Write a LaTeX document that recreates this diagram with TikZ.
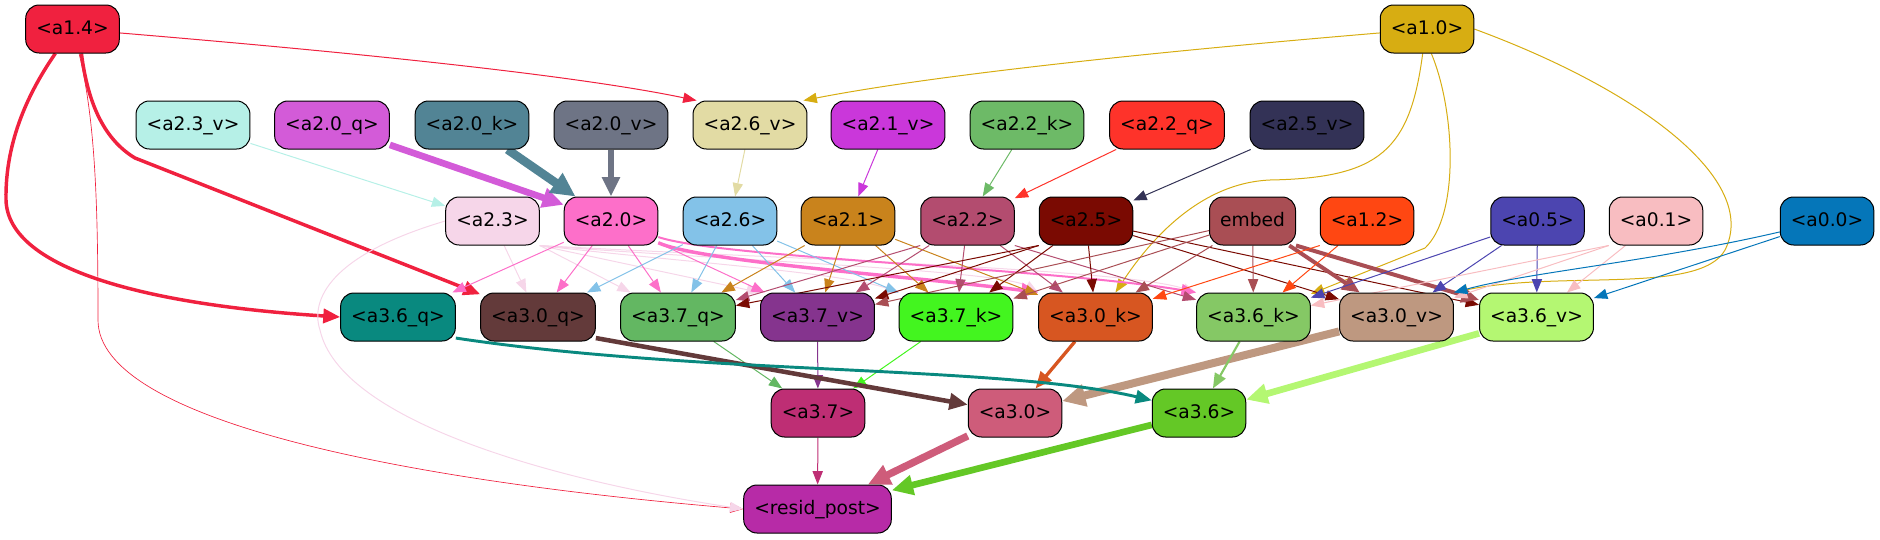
\documentclass[tikz,border=0pt]{standalone}
\usepackage{fontspec}
\setmainfont{DejaVu Sans}
\usetikzlibrary{arrows.meta, backgrounds}

\definecolor{c14}{HTML}{F0213F}
\definecolor{c10}{HTML}{D7AD12}
\definecolor{c23v}{HTML}{B6F0E7}
\definecolor{c20q}{HTML}{D35BD8}
\definecolor{c20k}{HTML}{528495}
\definecolor{c20v}{HTML}{6E7485}
\definecolor{c26v}{HTML}{E2DBA4}
\definecolor{c21v}{HTML}{CA37DA}
\definecolor{c22k}{HTML}{6DBA67}
\definecolor{c22q}{HTML}{FE332A}
\definecolor{c25v}{HTML}{333256}
\definecolor{c23}{HTML}{F6D6E9}
\definecolor{c20}{HTML}{FD6FC9}
\definecolor{c26}{HTML}{83C2E8}
\definecolor{c21}{HTML}{C9831C}
\definecolor{c22}{HTML}{B34C6F}
\definecolor{c25}{HTML}{7A0A02}
\definecolor{cemb}{HTML}{A94E54}
\definecolor{c12}{HTML}{FF4712}
\definecolor{c05}{HTML}{4C45B0}
\definecolor{c01}{HTML}{F8BDC1}
\definecolor{c00}{HTML}{0576B9}
\definecolor{c36q}{HTML}{09897F}
\definecolor{c30q}{HTML}{633A3A}
\definecolor{c37q}{HTML}{63B762}
\definecolor{c37v}{HTML}{85348E}
\definecolor{c37k}{HTML}{43F51F}
\definecolor{c30k}{HTML}{D75621}
\definecolor{c36k}{HTML}{85C865}
\definecolor{c30v}{HTML}{BE9880}
\definecolor{c36v}{HTML}{B4F772}
\definecolor{c37}{HTML}{BE2E74}
\definecolor{c30}{HTML}{CE5C7A}
\definecolor{c36}{HTML}{64C826}
\definecolor{cres}{HTML}{B72BA7}

\tikzset{
  box/.style={draw=black, line width=0.75pt, rounded corners=10pt, fill=#1,
    minimum height=36pt, inner xsep=7.92pt, inner ysep=0pt,
    text height=10.5pt, text depth=3pt, font=\fontsize{14pt}{16pt}\selectfont},
  link/.style={draw=#1, line width=0.75pt, -{Triangle[length=9pt 1.4, width=6.5pt 1.6]}}
}

\begin{document}
\begin{tikzpicture}[x=0.75pt, y=-0.75pt]
\useasboundingbox (0,0) rectangle (1880,539);

% Top row
\node[box=c14] (a14) at (72.5,29) {<a1.4>};
\node[box=c10] (a10) at (1427,29) {<a1.0>};

% Second row
\node[box=c23v] (a23v) at (193,125)  {<a2.3\_v>};
\node[box=c20q] (a20q) at (332,125)  {<a2.0\_q>};
\node[box=c20k] (a20k) at (472,125)  {<a2.0\_k>};
\node[box=c20v] (a20v) at (611,125)  {<a2.0\_v>};
\node[box=c26v] (a26v) at (750,125)  {<a2.6\_v>};
\node[box=c21v] (a21v) at (888,125)  {<a2.1\_v>};
\node[box=c22k] (a22k) at (1027,125) {<a2.2\_k>};
\node[box=c22q] (a22q) at (1167,125) {<a2.2\_q>};
\node[box=c25v] (a25v) at (1307,125) {<a2.5\_v>};

% Third row
\node[box=c23]  (a23) at (492.5,221)  {<a2.3>};
\node[box=c20]  (a20) at (611,221)    {<a2.0>};
\node[box=c26]  (a26) at (730,221)    {<a2.6>};
\node[box=c21]  (a21) at (848,221)    {<a2.1>};
\node[box=c22]  (a22) at (967.5,221)  {<a2.2>};
\node[box=c25]  (a25) at (1086,221)   {<a2.5>};
\node[box=cemb] (emb) at (1252.5,221) {embed};
\node[box=c12]  (a12) at (1367,221)   {<a1.2>};
\node[box=c05]  (a05) at (1537.5,221) {<a0.5>};
\node[box=c01]  (a01) at (1656,221)   {<a0.1>};
\node[box=c00]  (a00) at (1827,221)   {<a0.0>};

% Fourth row
\node[box=c36q] (a36q) at (398,317)    {<a3.6\_q>};
\node[box=c30q] (a30q) at (538,317)    {<a3.0\_q>};
\node[box=c37q] (a37q) at (678,317)    {<a3.7\_q>};
\node[box=c37v] (a37v) at (817.5,317)  {<a3.7\_v>};
\node[box=c37k] (a37k) at (956,317)    {<a3.7\_k>};
\node[box=c30k] (a30k) at (1095.5,317) {<a3.0\_k>};
\node[box=c36k] (a36k) at (1253.5,317) {<a3.6\_k>};
\node[box=c30v] (a30v) at (1396.5,317) {<a3.0\_v>};
\node[box=c36v] (a36v) at (1536.5,317) {<a3.6\_v>};

% Fifth row and output
\node[box=c37] (a37) at (818,413)  {<a3.7>};
\node[box=c30] (a30) at (1015,413) {<a3.0>};
\node[box=c36] (a36) at (1199,413) {<a3.6>};
\node[box=cres] (resid) at (817.5,509) {<resid\_post>};

\begin{scope}[on background layer]
% From a1.4
\draw[link=c14] (a14) .. controls (300,48) and (560,72) .. ([xshift=3pt]a26v.north west);
\draw[link=c14, line width=2.6pt] (a14.235) .. controls (30,90) and (5,140) .. (6,200)
     .. controls (8,270) and (150,305) .. (a36q.west);
\draw[link=c14, line width=2.6pt] (a14.290) .. controls (88,105) and (105,140) .. (135,158) -- (a30q);
\draw[link=c14, line width=0.5pt] (a14.285) .. controls (95,120) and (98,200) .. (98,320)
     .. controls (98,420) and (400,480) .. (resid.west);

% From a1.0
\draw[link=c10] (a10) .. controls (1200,48) and (950,72) .. ([xshift=-3pt]a26v.north east);
\draw[link=c10] (a10.260) .. controls (1410,150) and (1380,178) .. (1270,180)
     .. controls (1200,183) and (1150,240) .. ([xshift=15pt]a30k.north);
\draw[link=c10] (a10.280) .. controls (1455,110) and (1460,215) .. (1425,248) -- (a36k);
\draw[link=c10] (a10.east) .. controls (1640,90) and (1760,180) .. (1725,250)
     .. controls (1700,295) and (1560,270) .. (a30v.north east);

% Second row into third row
\draw[link=c23v] (a23v) -- (a23);
\draw[link=c20q, line width=5pt] (a20q) -- (a20);
\draw[link=c20k, line width=6.5pt] (a20k) -- (a20);
\draw[link=c20v, line width=4pt] (a20v) -- (a20);
\draw[link=c26v] (a26v) -- (a26);
\draw[link=c21v] (a21v) -- (a21);
\draw[link=c22k] (a22k) -- (a22);
\draw[link=c22q] (a22q) -- (a22);
\draw[link=c25v] (a25v) -- (a25);

% a2.3
\draw[link=c23] (a23) -- (a30q);
\draw[link=c23] (a23) -- (a37q);
\draw[link=c23] (a23.south east) -- (a37v.north west);
\draw[link=c23] (a23.south east) .. controls (680,262) and (840,272) .. (a37k.north west);
\draw[link=c23] (a23.south east) .. controls (720,260) and (1000,270) .. (a30k.north west);
\draw[link=c23] (a23.south east) .. controls (760,258) and (1120,268) .. (a36k.north west);
\draw[link=c23] (a23.west) .. controls (330,255) and (310,300) .. (320,330)
     .. controls (340,420) and (550,480) .. (resid.west);

% a2.0
\draw[link=c20] (a20) -- (a36q);
\draw[link=c20] (a20) -- (a30q);
\draw[link=c20] (a20) -- (a37q);
\draw[link=c20] (a20) -- (a37v);
\draw[link=c20, line width=2.6pt] (a20) .. controls (700,262) and (930,278) .. (a30k.north west);
\draw[link=c20, line width=1.5pt] (a20) .. controls (720,258) and (1050,268) .. (a36k.north west);

% a2.6
\draw[link=c26] (a26) -- (a30q);
\draw[link=c26] (a26) -- (a37q);
\draw[link=c26] (a26) -- (a37v);
\draw[link=c26] (a26) -- (a37k);

% a2.1
\draw[link=c21] (a21) -- (a37q);
\draw[link=c21] (a21) -- (a37v);
\draw[link=c21] (a21) -- (a37k);
\draw[link=c21] (a21) -- (a30k);

% a2.2
\draw[link=c22] (a22.south west) -- (a37q);
\draw[link=c22] (a22) -- (a37v);
\draw[link=c22] (a22) -- (a37k);
\draw[link=c22] (a22) -- (a30k);
\draw[link=c22] (a22.south east) -- (a36k);

% a2.5
\draw[link=c25] (a25.south west) -- (a37q);
\draw[link=c25] (a25.south west) -- (a37v);
\draw[link=c25] (a25) -- (a37k);
\draw[link=c25] (a25) -- (a30k);
\draw[link=c25] (a25) -- (a30v);
\draw[link=c25] (a25) -- (a36v);

% embed
\draw[link=cemb] (emb) -- (a37v);
\draw[link=cemb] (emb) -- (a37k);
\draw[link=cemb] (emb) -- (a30k);
\draw[link=cemb] (emb) -- (a36k);
\draw[link=cemb, line width=3pt] (emb) -- (a30v);
\draw[link=cemb, line width=3pt] (emb.south east) -- (a36v);

% a1.2, a0.5, a0.1, a0.0
\draw[link=c12] (a12.south west) -- (a30k);
\draw[link=c12] (a12) -- (a36k);
\draw[link=c05] (a05) -- (a36k);
\draw[link=c05] (a05) -- (a30v);
\draw[link=c05] (a05) -- (a36v);
\draw[link=c01] (a01.south west) -- (a36k);
\draw[link=c01] (a01.south west) -- (a30v);
\draw[link=c01] (a01) -- (a36v);
\draw[link=c00] (a00) .. controls (1650,262) and (1530,272) .. (a30v.north east);
\draw[link=c00] (a00) -- (a36v);

% Fourth row into fifth row
\draw[link=c37q] (a37q) -- (a37);
\draw[link=c37v] (a37v) -- (a37);
\draw[link=c37k] (a37k) -- (a37);
\draw[link=c30q, line width=3.4pt] (a30q.-20) -- (a30.170);
\draw[link=c30k, line width=2.5pt] (a30k) -- (a30);
\draw[link=c30v, line width=6pt] (a30v) -- (a30);
\draw[link=c36q, line width=2.2pt] (a36q.-20) .. controls (700,375) and (1000,365) .. (a36.165);
\draw[link=c36k, line width=1.6pt] (a36k) -- (a36);
\draw[link=c36v, line width=5pt] (a36v) -- (a36);

% Into resid_post
\draw[link=c37] (a37) -- (resid);
\draw[link=c30, line width=5.5pt] (a30) -- (resid);
\draw[link=c36, line width=5pt] (a36) -- (resid);
\end{scope}

\end{tikzpicture}
\end{document}
